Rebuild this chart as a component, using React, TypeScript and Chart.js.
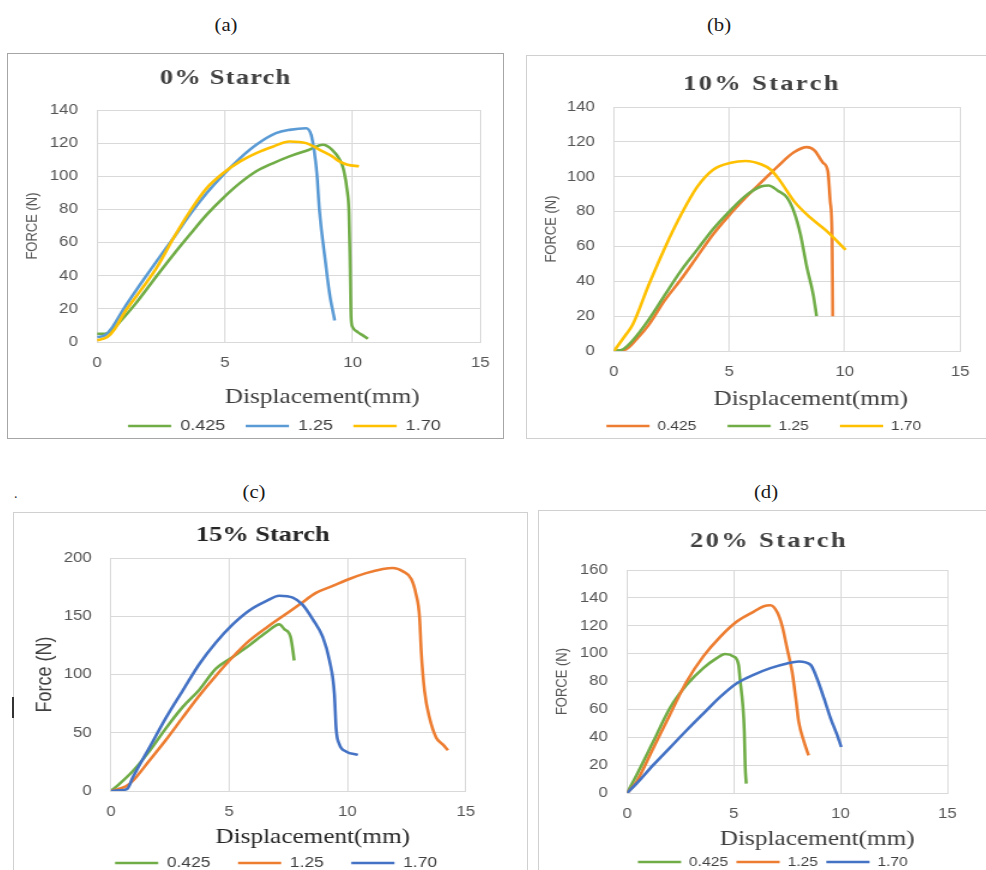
import React, { useEffect, useRef } from 'react';
import { Chart, registerables } from 'chart.js';

Chart.register(...registerables);

// ---------------- DATA ----------------
const SERIES_LABELS = ['0.425', '1.25', '1.70'];

type Pt = [number, number];

// (a) 0% Starch
const A_0425: Pt[] = [[0,5],[0.3,5],[0.5,6],[1.0,14],[1.5,23],[2.34,40],[3.0,53],[3.64,65],[4.3,77],[4.94,87],[5.6,96],[6.23,103],[6.9,108],[7.53,112],[8.3,116],[8.83,119],[9.2,116],[9.5,110],[9.65,104],[9.8,90],[9.86,78],[9.9,50],[9.94,15],[10.0,9],[10.2,6],[10.4,4],[10.6,2]];
const A_125: Pt[] = [[0,3],[0.3,4],[0.6,9],[1.04,20],[1.7,35],[2.34,49],[3.0,63],[3.64,77],[4.3,90],[4.94,101],[5.6,111],[6.23,119],[7.0,126],[7.53,128],[8.18,129],[8.38,125],[8.5,115],[8.6,102],[8.7,80],[8.94,48],[9.1,29],[9.3,13]];
const A_170: Pt[] = [[0,1],[0.4,3],[0.7,8],[1.04,17],[1.7,31],[2.34,45],[3.0,63],[3.64,79],[4.3,93],[4.94,102],[5.6,109],[6.23,114],[6.9,118],[7.53,121],[8.18,120],[8.83,115],[9.2,112],[9.48,109],[9.8,107],[10.25,106]];

// (b) 10% Starch
const B_0425: Pt[] = [[0,0],[0.53,1],[1.0,7],[1.51,15],[2.2,29],[2.9,41],[3.6,54],[4.3,67],[5.07,79],[5.7,88],[6.4,97],[7.1,106],[7.8,114],[8.36,117],[8.7,115],[9.06,108],[9.27,103],[9.37,86],[9.45,67],[9.47,40],[9.48,20]];
const B_125: Pt[] = [[0,0],[0.4,1],[0.81,6],[1.51,18],[2.2,32],[2.9,46],[3.6,58],[4.3,70],[5.07,81],[5.7,89],[6.4,94.5],[6.7,95],[7.1,92],[7.5,88],[7.8,80],[8.08,67],[8.36,48],[8.64,32],[8.78,20]];
const B_170: Pt[] = [[0,0],[0.53,9.6],[0.81,15],[1.51,38],[2.2,59],[2.9,78],[3.6,94],[4.3,104],[5.07,108],[5.7,109],[6.4,107],[6.8,104],[7.2,97.6],[7.8,86],[8.5,76.6],[9.2,69],[10.04,58]];

// (c) 15% Starch
const C_0425: Pt[] = [[0,0],[0.35,6],[0.92,17],[1.62,34],[2.33,54],[3.03,72],[3.74,87],[4.44,105],[5.15,115],[5.85,125],[6.56,136],[7.12,143],[7.33,139],[7.6,132],[7.75,112]];
const C_125: Pt[] = [[0,0],[0.35,2],[0.63,4],[0.92,8.6],[1.62,26],[2.33,44],[3.03,63],[3.74,82],[4.44,99],[5.15,115],[5.85,129],[6.56,140],[7.26,150],[7.97,160],[8.67,170],[9.38,176],[10.08,182],[10.79,187],[11.5,190.5],[11.92,191.4],[12.35,188.5],[12.7,182],[12.9,169],[13.05,149],[13.12,120],[13.26,86],[13.47,63],[13.75,46],[14.03,40],[14.25,35]];
const C_170: Pt[] = [[0,0],[0.35,0.5],[0.7,2],[0.92,11.5],[1.62,37],[2.33,63],[3.03,86],[3.74,109],[4.44,127.5],[5.15,143],[5.85,155],[6.56,163],[7.12,167.6],[7.69,166],[8.1,160],[8.53,147.6],[8.96,132],[9.24,112],[9.45,83],[9.52,54],[9.66,40],[9.94,34],[10.44,31]];

// (d) 20% Starch
const D_0425: Pt[] = [[0,0],[0.44,12.7],[1.22,36.7],[2.0,60.8],[2.79,77.6],[3.57,89.6],[4.2,96.8],[4.59,99.7],[4.98,98],[5.22,92],[5.3,80],[5.42,63],[5.49,44],[5.53,20],[5.58,6.7]];
const D_125: Pt[] = [[0,0],[0.44,8],[1.22,32],[2.0,56],[2.79,80],[3.57,98],[4.36,112],[5.14,123],[5.92,130],[6.4,134],[6.71,134.7],[7.02,130],[7.26,120],[7.49,104],[7.73,87],[7.9,68],[8.04,51],[8.28,37],[8.5,27]];
const D_170: Pt[] = [[0,0],[0.44,6.7],[1.22,20],[2.0,32.4],[2.79,45],[3.57,57],[4.36,69],[5.14,78.8],[5.92,84.8],[6.71,89.6],[7.49,93],[8.04,94.4],[8.59,92],[8.9,82],[9.22,68],[9.53,53.6],[9.84,41.5],[10.03,33]];

const PANEL_TITLES = ['0% Starch', '10% Starch', '15% Starch', '20% Starch'];
const Y_TITLES = ['FORCE (N)', 'FORCE (N)', 'Force (N)', 'FORCE (N)'];
const Y_MAX = [140, 140, 200, 160];
const Y_STEP = [20, 20, 50, 20];
const X_MAX = 15;
const X_STEP = 5;
const X_TITLE = 'Displacement(mm)';
const PANEL_TAGS = ['(a)', '(b)', '(c)', '(d)'];

// ---------------- STYLE / LAYOUT ----------------
const GREEN = '#70AD47';
const LBLUE = '#5B9BD5';
const GOLD = '#FFC000';
const ORANGE = '#ED7D31';
const DBLUE = '#4472C4';

const S = 1.2; // horizontal stretch of the charts
const SANS = '"Liberation Sans", Arial, sans-serif';
const SERIF = '"Liberation Serif", "Times New Roman", serif';

interface PanelSpec {
  series: Pt[][];
  colors: string[];
  x0: number; y0: number;
  plot: { l: number; r: number; t: number; b: number };
  yTitleX: number; yTitleSize: number; yTitleColor: string;
  legendCX: number; legendCY: number; legendGap: number; legendFont: number;
  titleX: number; titleY: number; titleSpacing: number; titleColor: string;
  xTitleX: number; xTitleY: number; xTitleColor: string;
}

const PANELS: PanelSpec[] = [
  {
    series: [A_0425, A_125, A_170], colors: [GREEN, LBLUE, GOLD],
    x0: 8, y0: 54, plot: { l: 97, r: 480, t: 110, b: 342 },
    yTitleX: 32, yTitleSize: 13, yTitleColor: '#555555',
    legendCX: 284, legendCY: 426, legendGap: 17, legendFont: 15,
    titleX: 225, titleY: 78, titleSpacing: 1, titleColor: '#404040',
    xTitleX: 322, xTitleY: 397, xTitleColor: '#404040',
  },
  {
    series: [B_0425, B_125, B_170], colors: [ORANGE, GREEN, GOLD],
    x0: 527, y0: 56, plot: { l: 614, r: 972, t: 107, b: 351 },
    yTitleX: 552, yTitleSize: 13, yTitleColor: '#555555',
    legendCX: 764, legendCY: 426, legendGap: 26, legendFont: 13,
    titleX: 761, titleY: 84, titleSpacing: 2, titleColor: '#404040',
    xTitleX: 811, xTitleY: 399, xTitleColor: '#404040',
  },
  {
    series: [C_0425, C_125, C_170], colors: [GREEN, ORANGE, DBLUE],
    x0: 14, y0: 513, plot: { l: 111, r: 466, t: 558, b: 791 },
    yTitleX: 45, yTitleSize: 18, yTitleColor: '#404040',
    legendCX: 276, legendCY: 863, legendGap: 23, legendFont: 14.5,
    titleX: 263, titleY: 535, titleSpacing: 0, titleColor: '#262626',
    xTitleX: 313, xTitleY: 837, xTitleColor: '#262626',
  },
  {
    series: [D_0425, D_125, D_170], colors: [GREEN, ORANGE, DBLUE],
    x0: 539, y0: 511, plot: { l: 627, r: 947, t: 570, b: 793 },
    yTitleX: 562, yTitleSize: 13, yTitleColor: '#555555',
    legendCX: 772.5, legendCY: 862, legendGap: 7, legendFont: 13,
    titleX: 767.5, titleY: 541, titleSpacing: 2, titleColor: '#404040',
    xTitleX: 817, xTitleY: 839, xTitleColor: '#404040',
  },
];

function computeLayout(p: PanelSpec) {
  const lhY = p.yTitleSize * 1.2;
  const pl = (p.yTitleX - p.x0) / S - lhY / 2;
  const yw = (p.plot.l - p.x0) / S - pl;
  const W = Math.round((2 * (p.legendCX - p.x0)) / S - pl);
  const w2 = W - (p.plot.r - p.x0) / S;
  const f = p.legendFont;
  const hx = p.legendCY - p.plot.b - p.legendGap - f / 2;
  const legendBottom = p.legendCY + f / 2 + 10;
  const H = Math.ceil(legendBottom - p.y0);
  const pb = H - (legendBottom - p.y0);
  const pt = p.plot.t - p.y0;
  return { pl, yw, W, w2, hx, H, pb, pt };
}

const LAYOUTS = PANELS.map(computeLayout);

interface TextItem { text: string; x: number; y: number; font: string; color: string; spacing: number }

function makeTextPlugin(items: TextItem[]) {
  return {
    id: 'panelText',
    afterDraw(chart: any) {
      const ctx = chart.ctx as CanvasRenderingContext2D;
      for (const it of items) {
        ctx.save();
        ctx.font = it.font;
        ctx.fillStyle = it.color;
        ctx.textAlign = 'center';
        ctx.textBaseline = 'middle';
        (ctx as any).letterSpacing = `${it.spacing}px`;
        ctx.fillText(it.text, it.x + it.spacing / 2, it.y);
        ctx.restore();
      }
    },
  };
}

function buildConfig(p: PanelSpec, i: number): any {
  const L = LAYOUTS[i];
  const gridColor = '#d9d9d9';
  const tickColor = '#555555';
  const items: TextItem[] = [
    {
      text: PANEL_TITLES[i], x: (p.titleX - p.x0) / S, y: p.titleY - p.y0,
      font: `bold 22px ${SERIF}`, color: p.titleColor, spacing: p.titleSpacing,
    },
    {
      text: X_TITLE, x: (p.xTitleX - p.x0) / S, y: p.xTitleY - p.y0,
      font: `21px ${SERIF}`, color: p.xTitleColor, spacing: 0,
    },
  ];
  return {
    type: 'line',
    data: {
      datasets: p.series.map((pts, k) => ({
        label: SERIES_LABELS[k],
        data: pts.map(([x, y]) => ({ x, y })),
        borderColor: p.colors[k],
        backgroundColor: p.colors[k],
        borderWidth: 2.6,
        pointRadius: 0,
        fill: false,
        cubicInterpolationMode: 'monotone',
        order: 3 - k,
      })),
    },
    options: {
      animation: false,
      responsive: false,
      devicePixelRatio: 1,
      events: [],
      layout: { padding: { left: L.pl, right: 0, top: L.pt, bottom: L.pb } },
      plugins: {
        tooltip: { enabled: false },
        title: { display: false },
        legend: {
          display: true,
          position: 'bottom',
          labels: {
            boxWidth: 36,
            boxHeight: 2.5,
            padding: p.legendGap,
            color: '#404040',
            font: { family: SANS, size: p.legendFont },
            sort: (a: any, b: any) => a.datasetIndex - b.datasetIndex,
            generateLabels: (chart: any) =>
              Chart.defaults.plugins.legend.labels.generateLabels(chart).map((it: any) => ({
                ...it,
                lineWidth: 0,
              })),
          },
        },
      },
      scales: {
        x: {
          type: 'linear',
          min: 0,
          max: X_MAX,
          ticks: { stepSize: X_STEP, padding: 13, color: tickColor, font: { family: SANS, size: 14 } },
          grid: { color: gridColor, drawTicks: false },
          border: { color: gridColor },
          title: { display: false },
          afterFit: (s: any) => { s.height = L.hx; },
        },
        y: {
          type: 'linear',
          position: 'left',
          min: 0,
          max: Y_MAX[i],
          ticks: { stepSize: Y_STEP[i], padding: 16, color: tickColor, font: { family: SANS, size: 14 } },
          grid: { color: gridColor, drawTicks: false },
          border: { color: gridColor },
          title: {
            display: true,
            text: Y_TITLES[i],
            color: p.yTitleColor,
            font: { family: SANS, size: p.yTitleSize },
            padding: { top: 0, bottom: 0 },
          },
          afterFit: (s: any) => { s.width = L.yw; },
        },
        y2: {
          type: 'linear',
          position: 'right',
          display: true,
          ticks: { display: false },
          grid: { display: false },
          border: { display: false },
          title: { display: false },
          afterFit: (s: any) => { s.width = L.w2; },
        },
      },
    },
    plugins: [makeTextPlugin(items)],
  };
}

const BOXES = [
  { left: 7, top: 53, width: 497, height: 386, color: '#a6a6a6' },
  { left: 526, top: 55, width: 470, height: 384, color: '#d0d0d0' },
  { left: 13, top: 512, width: 515, height: 400, color: '#d0d0d0' },
  { left: 538, top: 510, width: 460, height: 400, color: '#d0d0d0' },
];

const TAG_POS = [
  { x: 226, y: 25 },
  { x: 719, y: 25 },
  { x: 254, y: 492 },
  { x: 766, y: 492 },
];

export default function App() {
  const r0 = useRef<HTMLCanvasElement>(null);
  const r1 = useRef<HTMLCanvasElement>(null);
  const r2 = useRef<HTMLCanvasElement>(null);
  const r3 = useRef<HTMLCanvasElement>(null);
  const refs = [r0, r1, r2, r3];

  useEffect(() => {
    const charts = PANELS.map((p, i) => new Chart(refs[i].current as HTMLCanvasElement, buildConfig(p, i)));
    return () => charts.forEach((c) => c.destroy());
  }, []);

  return (
    <div
      style={{
        position: 'absolute', left: 0, top: 0, width: 986, height: 870,
        overflow: 'hidden', background: '#ffffff',
      }}
    >
      {BOXES.map((b, i) => (
        <div
          key={'box' + i}
          style={{
            position: 'absolute', left: b.left, top: b.top, width: b.width, height: b.height,
            border: `1px solid ${b.color}`, boxSizing: 'border-box',
          }}
        />
      ))}
      {PANEL_TAGS.map((t, i) => (
        <div
          key={'tag' + i}
          style={{
            position: 'absolute', left: TAG_POS[i].x, top: TAG_POS[i].y,
            transform: 'translate(-50%, -50%) scaleX(1.15)',
            fontFamily: SERIF, fontSize: 18, lineHeight: '20px', color: '#1a1a1a', whiteSpace: 'nowrap',
          }}
        >
          {t}
        </div>
      ))}
      <div style={{ position: 'absolute', left: 14, top: 486, fontFamily: SERIF, fontSize: 14, color: '#333' }}>.</div>
      <div style={{ position: 'absolute', left: 12, top: 697, width: 2, height: 21, background: '#333' }} />
      {PANELS.map((p, i) => (
        <canvas
          key={'cv' + i}
          ref={refs[i]}
          width={LAYOUTS[i].W}
          height={LAYOUTS[i].H}
          style={{
            position: 'absolute', left: p.x0, top: p.y0,
            width: LAYOUTS[i].W * S, height: LAYOUTS[i].H,
          }}
        />
      ))}
    </div>
  );
}
